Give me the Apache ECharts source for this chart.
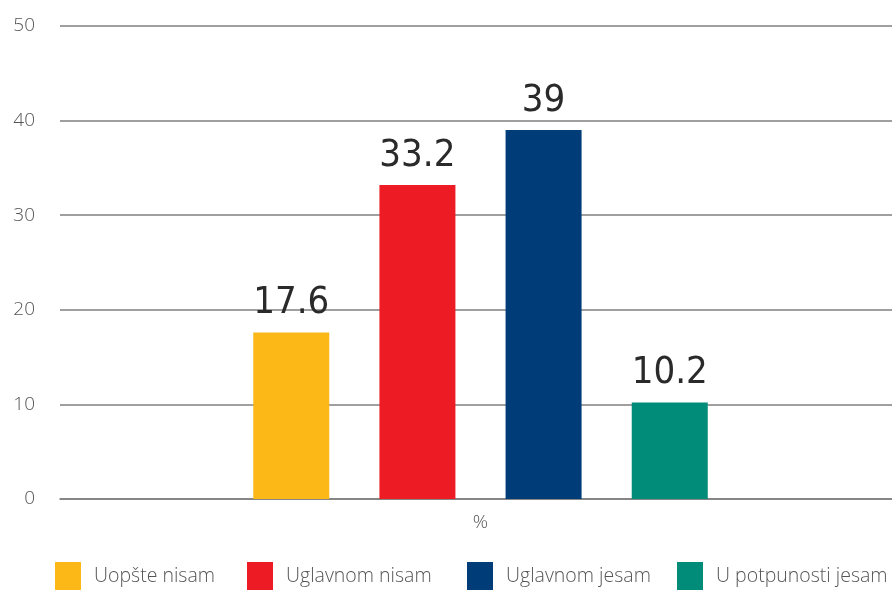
<!DOCTYPE html>
<html>
<head>
<meta charset="utf-8">
<script src="https://cdn.jsdelivr.net/npm/echarts@6/dist/echarts.min.js"></script>
<style>
  html, body { margin: 0; padding: 0; background: #fff; }
  #chart { width: 892px; height: 592px; }
</style>
</head>
<body>
<div id="chart"></div>
<script>
// Data
const categories = ['%'];
const seriesNames = ['Uopšte nisam', 'Uglavnom nisam', 'Uglavnom jesam', 'U potpunosti jesam'];
const seriesValues = [17.6, 33.2, 39, 10.2];
const seriesColors = ['#FBB817', '#ED1C24', '#003D78', '#008C78'];
const legendLeft = [55, 247, 467, 677];
const yTicks = { min: 0, max: 50, interval: 10 };

const chart = echarts.init(document.getElementById('chart'), null, { renderer: 'canvas' });

const series = seriesNames.map((name, i) => ({
    name: name,
    type: 'bar',
    data: [seriesValues[i]],
    barWidth: 76,
    barGap: '66%',
    itemStyle: { color: seriesColors[i] },
    label: {
        show: true,
        position: 'top',
        distance: 10,
        fontFamily: '"DejaVu Sans Condensed", sans-serif',
        fontSize: 38,
        color: '#2a2a2a',
        formatter: p => String(p.value)
    }
}));

// one legend per item so each sits where the reference puts it
const legends = seriesNames.map((name, i) => ({
    data: [name],
    left: legendLeft[i],
    top: 562,
    padding: 0,
    itemWidth: 26,
    itemHeight: 28,
    icon: 'rect',
    textStyle: { fontFamily: '"Open Sans", sans-serif', fontWeight: 300, fontSize: 19.5, color: '#555', padding: [24, 0, 0, 8] }
}));

const option = {
    backgroundColor: '#fff',
    animation: false,
    grid: { left: 60, width: 841, top: 26, bottom: 93, outerBoundsMode: 'none', containLabel: false },
    legend: legends,
    xAxis: {
        type: 'category',
        data: categories,
        axisLine: { lineStyle: { color: '#7f7f7f', width: 1.5 } },
        axisTick: { show: false },
        axisLabel: { fontFamily: '"Open Sans", sans-serif', fontWeight: 300, fontSize: 19, color: '#555', margin: 14 }
    },
    yAxis: {
        type: 'value',
        min: yTicks.min,
        max: yTicks.max,
        interval: yTicks.interval,
        axisLine: { show: false },
        axisTick: { show: false },
        splitLine: { lineStyle: { color: '#7f7f7f', width: 1.5 } },
        axisLabel: { fontFamily: '"Open Sans", sans-serif', fontWeight: 300, fontSize: 19, color: '#555', margin: 25, align: 'right' }
    },
    series: series
};

chart.setOption(option);
</script>
</body>
</html>
